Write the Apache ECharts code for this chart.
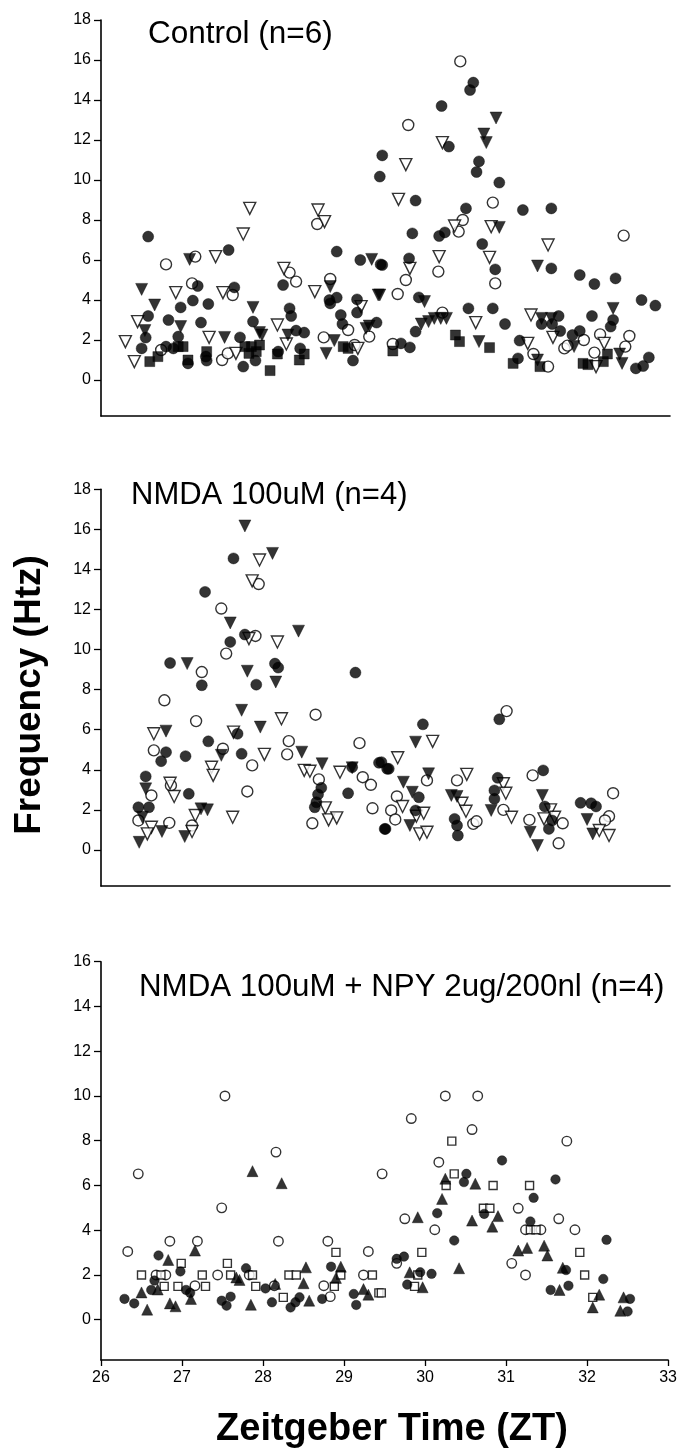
<!DOCTYPE html>
<html><head><meta charset="utf-8">
<script src="https://cdn.jsdelivr.net/npm/echarts@6/dist/echarts.min.js"></script>
<style>html,body{margin:0;padding:0;background:#fff}#c{width:680px;height:1454px}</style>
</head><body><div id="c"></div>
<script>
// ---------- tick labels ----------
const xTicks = [26, 27, 28, 29, 30, 31, 32, 33];
const yTicks18 = [0, 2, 4, 6, 8, 10, 12, 14, 16, 18];
const yTicks16 = [0, 2, 4, 6, 8, 10, 12, 14, 16];
const titles = ["Control (n=6)", "NMDA 100uM (n=4)", "NMDA 100uM + NPY 2ug/200nl (n=4)"];
const yName = "Frequency (Htz)";
const xName = "Zeitgeber Time (ZT)";

// ---------- Panel 1: Control ----------
const ctrlFilledCircle = [[30.58,14.87],[30.54,14.5],[30.19,13.7],[30.28,11.67],[29.46,11.23],[29.43,10.17],[30.65,10.93],[30.62,10.4],[30.9,9.87],[29.87,8.97],[30.49,8.58],[31.19,8.5],[31.54,8.58],[29.83,7.33],[30.16,7.2],[30.23,7.38],[30.69,6.8],[29.79,6.08],[30.85,5.53],[29.46,5.75],[31.54,5.58],[31.89,5.25],[32.07,4.8],[32.33,5.08],[29.91,4.13],[32.65,4.0],[32.82,3.72],[30.52,3.58],[30.82,3.58],[29.87,2.42],[30.97,2.8],[31.63,3.2],[31.42,2.8],[31.55,2.8],[31.65,2.45],[32.04,3.2],[32.3,3.0],[32.27,2.67],[29.69,1.83],[29.8,1.63],[31.15,1.97],[31.8,2.25],[31.89,2.45],[31.13,1.08],[32.74,1.13],[32.58,0.58],[32.67,0.7],[26.58,7.17],[28.9,6.42],[27.57,6.5],[29.19,6.0],[29.44,5.78],[28.24,4.75],[27.19,4.7],[27.64,4.63],[27.13,3.97],[26.98,3.63],[27.32,3.8],[28.81,4.0],[28.9,4.12],[28.82,3.83],[29.15,4.03],[29.15,3.37],[28.32,3.58],[28.34,3.2],[26.58,3.2],[26.83,3.0],[27.23,2.87],[27.87,2.92],[28.95,3.25],[28.97,2.8],[29.39,2.87],[26.55,2.12],[26.95,2.17],[27.71,2.13],[28.4,2.47],[28.5,2.37],[29.1,0.97],[26.5,1.58],[26.8,1.67],[26.89,1.58],[27.07,0.83],[27.29,1.17],[27.3,0.97],[27.75,0.67],[27.9,0.97],[28.18,1.42],[28.45,1.58]];
const ctrlOpenCircle = [[30.42,15.93],[29.78,12.75],[30.82,8.87],[30.45,8.0],[30.4,7.42],[32.43,7.22],[30.15,5.42],[29.75,5.0],[30.85,4.83],[29.65,4.3],[30.2,3.37],[29.59,1.8],[31.7,1.58],[31.74,1.72],[31.94,2.0],[32.14,2.28],[32.5,2.2],[32.45,1.67],[31.32,1.3],[31.5,0.67],[32.07,1.37],[28.66,7.8],[27.16,6.17],[26.8,5.78],[28.32,5.37],[28.4,4.92],[28.82,5.05],[27.12,4.83],[27.62,4.25],[29.04,2.5],[29.3,2.17],[28.74,2.13],[29.12,1.75],[26.74,1.5],[27.49,1.0],[27.56,1.33]];
const ctrlFilledTriDown = [[30.86,13.1],[30.71,12.3],[30.74,11.87],[30.9,7.63],[31.37,5.7],[29.43,4.25],[29.98,3.92],[29.94,2.8],[30.03,2.92],[30.1,3.08],[30.18,3.08],[30.25,3.08],[31.42,3.08],[31.54,3.08],[32.3,3.58],[30.65,1.92],[31.82,1.67],[31.37,1.0],[32.38,1.3],[32.41,0.83],[27.09,6.03],[29.33,6.03],[28.82,4.67],[26.5,4.53],[29.41,4.25],[26.66,3.75],[27.87,3.63],[27.95,2.37],[27.98,2.25],[29.26,2.58],[29.3,2.7],[26.54,2.47],[26.98,2.67],[27.52,2.13],[28.3,2.25],[28.87,1.97],[28.77,1.33]];
const ctrlOpenTriDown = [[30.2,11.87],[29.75,10.77],[29.66,9.03],[30.35,7.7],[30.8,7.67],[31.5,6.75],[30.16,6.17],[29.8,5.58],[30.78,6.13],[30.61,2.87],[31.29,3.25],[31.56,2.13],[31.25,1.83],[32.19,1.83],[32.09,0.67],[27.83,8.58],[28.67,8.5],[28.75,7.92],[27.75,7.3],[27.41,6.17],[28.25,5.58],[28.63,4.42],[26.92,4.37],[27.5,4.37],[29.2,3.67],[26.45,2.92],[26.3,1.92],[27.33,2.13],[28.17,2.75],[28.28,1.8],[29.16,1.58],[26.41,0.92],[27.66,1.33]];
const ctrlFilledSquare = [[30.36,2.25],[30.41,1.92],[30.78,1.62],[29.59,1.45],[31.07,0.83],[31.4,0.67],[31.93,0.83],[31.99,0.77],[32.18,0.92],[32.23,1.3],[28.98,1.67],[29.04,1.58],[26.6,0.92],[26.7,1.17],[26.95,1.67],[27.01,1.67],[27.07,1.0],[27.3,1.42],[27.77,1.67],[27.85,1.67],[27.91,1.42],[27.95,1.75],[27.82,1.33],[28.08,0.47],[28.17,1.3],[28.44,1.0],[28.5,1.3]];

// ---------- Panel 2: NMDA ----------
const nmdaFilledCircle = [[27.63,14.55],[27.28,12.88],[27.77,10.75],[27.59,10.38],[26.85,9.33],[28.14,9.3],[28.18,9.1],[29.13,8.85],[27.24,8.22],[27.91,8.25],[27.68,5.8],[27.32,5.42],[26.8,4.88],[26.74,4.43],[27.04,4.68],[27.73,4.8],[29.09,4.13],[29.42,4.35],[29.52,4.05],[26.55,3.67],[27.08,2.8],[28.71,3.1],[28.67,2.77],[28.65,2.38],[28.63,2.13],[29.04,2.83],[26.46,2.13],[26.59,2.13],[29.5,1.05],[30.9,6.52],[29.96,6.27],[29.45,4.38],[29.54,4.05],[30.88,3.6],[30.84,2.97],[30.84,2.55],[31.44,3.97],[29.91,2.63],[29.87,1.97],[29.49,1.05],[30.35,1.55],[30.38,1.22],[30.39,0.72],[31.46,2.17],[31.55,1.47],[31.51,1.05],[31.9,2.35],[32.03,2.33],[32.09,2.17]];
const nmdaOpenCircle = [[27.94,13.27],[27.48,12.05],[27.9,10.68],[27.54,9.8],[27.24,8.88],[26.78,7.47],[28.64,6.75],[27.17,6.43],[28.31,5.43],[29.18,5.33],[26.65,4.97],[27.5,5.05],[28.29,4.77],[27.86,4.22],[29.22,3.63],[29.32,3.25],[26.86,3.22],[26.62,2.72],[27.8,2.92],[28.68,3.52],[26.46,1.47],[26.84,1.35],[27.12,1.22],[28.6,1.33],[29.34,2.08],[30.99,6.93],[30.01,3.47],[30.38,3.47],[31.31,3.72],[29.64,2.67],[29.57,1.97],[29.62,1.52],[30.95,2.0],[30.58,1.3],[30.62,1.43],[31.27,1.5],[31.68,1.33],[31.63,0.33],[32.3,2.83],[32.25,1.68],[32.2,1.47]];
const nmdaFilledTriDown = [[27.77,16.17],[28.11,14.8],[27.59,11.33],[28.43,10.92],[27.06,9.3],[27.8,8.92],[28.15,8.38],[27.73,6.97],[27.96,6.13],[26.8,5.93],[27.48,4.72],[28.47,4.88],[28.72,4.3],[29.09,4.1],[26.55,3.05],[26.51,1.63],[26.47,0.38],[26.75,0.92],[27.03,0.67],[27.23,2.05],[27.31,2.0],[29.87,5.38],[29.72,3.38],[30.03,3.8],[30.8,1.97],[29.83,2.88],[29.8,1.22],[30.31,2.72],[30.38,2.67],[31.28,0.88],[31.37,0.22],[31.43,2.72],[31.98,1.52],[32.05,0.8]];
const nmdaOpenTriDown = [[27.95,14.47],[27.86,13.43],[27.82,10.55],[28.17,10.38],[28.22,6.55],[26.65,5.8],[27.63,5.88],[28.01,4.77],[27.36,4.13],[27.38,3.72],[28.5,3.97],[28.57,3.93],[28.94,3.88],[26.85,3.33],[26.9,2.67],[26.62,1.13],[26.57,0.8],[27.12,0.92],[27.16,1.72],[27.62,1.63],[28.76,2.1],[28.8,1.5],[28.9,1.6],[30.08,5.42],[29.65,4.6],[30.5,3.77],[30.95,3.3],[30.98,2.83],[31.05,1.63],[29.71,2.17],[29.88,1.68],[29.97,1.83],[29.92,0.8],[30.01,0.88],[30.44,2.33],[30.49,1.93],[31.53,2.0],[31.58,1.63],[31.45,1.55],[32.13,0.97],[32.25,0.72]];

// ---------- Panel 3: NMDA + NPY ----------
const npyFilledCircle = [[30.95,7.12],[26.71,2.87],[26.98,2.16],[28.84,2.37],[27.79,2.3],[26.66,1.75],[28.03,1.4],[26.62,1.33],[27.05,1.33],[27.1,1.2],[26.29,0.93],[26.41,0.73],[27.49,0.85],[27.55,0.63],[27.6,1.03],[28.11,0.78],[28.34,0.55],[28.4,0.78],[28.45,1.0],[28.73,0.93],[29.12,1.15],[29.15,0.66],[30.51,6.52],[30.48,6.15],[31.61,6.27],[31.34,5.45],[30.73,4.73],[30.15,4.76],[31.3,4.39],[32.24,3.57],[30.36,3.54],[29.65,2.72],[29.74,2.82],[31.74,2.22],[32.2,1.82],[29.94,2.12],[30.08,2.05],[29.78,1.57],[31.77,1.52],[31.55,1.33],[32.53,0.93],[32.5,0.37]];
const npyOpenCircle = [[26.46,6.52],[27.53,10.0],[28.16,7.49],[30.25,10.0],[30.65,10.0],[29.83,8.99],[30.58,8.5],[31.75,7.98],[30.17,7.04],[29.47,6.52],[27.49,5.0],[26.85,3.51],[27.19,3.51],[28.19,3.51],[28.8,3.51],[26.33,3.05],[29.3,3.05],[26.68,2.0],[26.8,2.0],[27.44,2.0],[27.83,2.0],[29.24,2.0],[27.16,1.52],[28.14,1.52],[28.75,1.52],[28.83,1.03],[31.15,4.98],[29.75,4.51],[30.12,4.02],[31.24,4.02],[31.43,4.02],[31.65,4.51],[31.85,4.02],[29.65,2.52],[31.07,2.52],[31.24,2.0]];
const npyFilledTriUp = [[27.87,6.64],[28.23,6.1],[27.16,3.09],[26.83,2.67],[28.53,2.34],[28.96,2.37],[27.67,1.89],[27.71,1.78],[28.5,1.63],[28.9,1.87],[28.15,1.6],[26.5,1.22],[26.7,1.35],[27.11,0.93],[26.57,0.45],[26.85,0.73],[26.92,0.6],[27.85,0.67],[28.57,0.85],[29.24,1.37],[29.3,1.12],[30.25,6.3],[30.62,6.08],[30.21,5.4],[30.9,4.63],[29.91,4.58],[30.58,4.43],[30.83,4.16],[31.15,3.09],[31.26,3.21],[31.47,3.31],[31.51,2.87],[30.42,2.3],[31.7,2.32],[29.81,2.12],[29.97,1.45],[31.66,1.33],[32.15,1.12],[32.07,0.55],[32.45,1.0],[32.41,0.4]];
const npyOpenSquare = [[30.33,7.98],[28.9,3.01],[26.99,2.52],[27.56,2.52],[26.5,2.0],[26.74,2.0],[27.25,2.0],[27.6,2.0],[27.87,2.0],[28.32,2.0],[28.41,2.0],[28.96,2.0],[29.35,2.0],[26.78,1.49],[26.95,1.49],[27.29,1.49],[27.91,1.49],[28.88,1.49],[28.25,1.0],[29.43,1.2],[29.46,1.2],[30.36,6.52],[30.26,6.0],[30.84,6.0],[31.29,6.0],[30.72,4.98],[30.8,4.98],[31.3,4.02],[31.37,4.02],[29.96,3.01],[31.91,3.01],[31.97,2.0],[29.91,2.0],[29.87,1.49],[32.07,1.0]];

// ---------- build chart ----------
const FONT = "'Liberation Sans', Arial, sans-serif";
const chart = echarts.init(document.getElementById('c'), null, {renderer: 'canvas'});

const grids = [
  {left: 101, top: 20, width: 569, height: 396},
  {left: 101, top: 489.3, width: 569, height: 396.7},
  {left: 101, top: 961.7, width: 569, height: 398.3}
];
const yMax = [18, 18, 16];
const yTickSets = [yTicks18, yTicks18, yTicks16];

const xAxes = grids.map((g, i) => ({
  type: 'value', gridIndex: i, min: 26, max: 33, interval: 1,
  axisLine: {show: true, onZero: false, lineStyle: {color: '#000', width: 1.6}},
  axisTick: {show: i === 2, length: 6, lineStyle: {color: '#000', width: 1.3}},
  axisLabel: {show: i === 2, color: '#000', fontSize: 16, fontFamily: FONT, margin: 10},
  splitLine: {show: false}
}));
const yAxes = grids.map((g, i) => ({
  type: 'value', gridIndex: i, min: -1.8, max: yMax[i],
  axisLine: {show: true, onZero: false, lineStyle: {color: '#000', width: 1.6}},
  axisTick: {show: true, length: 7, lineStyle: {color: '#000', width: 1.3}, customValues: yTickSets[i]},
  axisLabel: {show: true, color: '#000', fontSize: 16, fontFamily: FONT, margin: 10, customValues: yTickSets[i]},
  splitLine: {show: false}
}));

function mk(data, gi, kind, sz) {
  const filled = kind.filled;
  return {
    type: 'scatter', xAxisIndex: gi, yAxisIndex: gi, data: data,
    symbol: kind.symbol, symbolSize: sz, symbolRotate: kind.rotate || 0,
    silent: true, animation: false,
    itemStyle: filled ? {color: '#000', borderColor: '#000', borderWidth: 0.5}
                      : {color: '#fff', borderColor: '#000', borderWidth: 1.4}
  };
}
const FC = {symbol: 'circle', filled: true};
const OC = {symbol: 'circle', filled: false};
const FTD = {symbol: 'triangle', filled: true, rotate: 180};
const OTD = {symbol: 'triangle', filled: false, rotate: 180};
const FS = {symbol: 'rect', filled: true};
const FTU = {symbol: 'triangle', filled: true};
const OS = {symbol: 'rect', filled: false};

const series = [
  mk(ctrlOpenCircle, 0, OC, 11),
  mk(ctrlOpenTriDown, 0, OTD, 12),
  mk(ctrlFilledSquare, 0, FS, 10),
  mk(ctrlFilledTriDown, 0, FTD, 12),
  mk(ctrlFilledCircle, 0, FC, 11),
  mk(nmdaOpenCircle, 1, OC, 11),
  mk(nmdaOpenTriDown, 1, OTD, 12),
  mk(nmdaFilledTriDown, 1, FTD, 12),
  mk(nmdaFilledCircle, 1, FC, 11),
  mk(npyOpenCircle, 2, OC, 9.5),
  mk(npyOpenSquare, 2, OS, 8),
  mk(npyFilledTriUp, 2, FTU, 11),
  mk(npyFilledCircle, 2, FC, 9.5)
];

const textEl = (t, x, y, font, align, rot) => ({
  type: 'text', x: x, y: y, rotation: rot || 0, silent: true,
  style: {text: t, font: font, fill: '#000', align: align, verticalAlign: 'middle'}
});

chart.setOption({
  backgroundColor: '#fff',
  animation: false,
  grid: grids,
  xAxis: xAxes,
  yAxis: yAxes,
  series: series,
  graphic: [
    textEl(titles[0], 148, 34, "31.5px " + FONT, 'left'),
    textEl(titles[1], 131, 495, "31px " + FONT, 'left'),
    textEl(titles[2], 139, 987, "31.3px " + FONT, 'left'),
    textEl(yName, 30, 695, "bold 37px " + FONT, 'center', Math.PI / 2),
    textEl(xName, 392, 1430, "bold 38px " + FONT, 'center')
  ]
});
</script>
</body></html>
